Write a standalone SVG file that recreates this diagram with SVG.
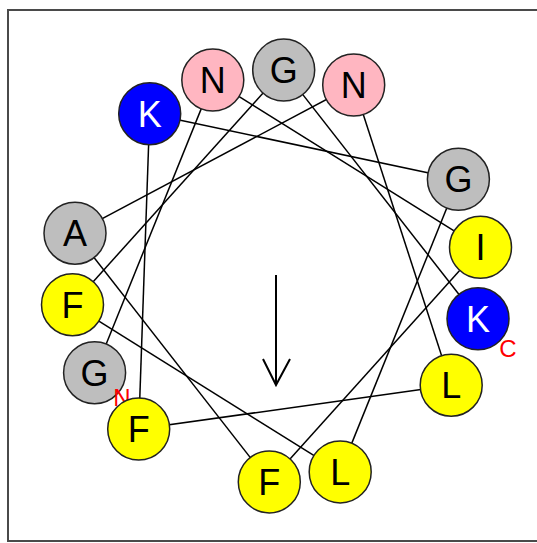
<svg xmlns="http://www.w3.org/2000/svg" width="537" height="543" viewBox="0 0 537 543">
<style>
.frame{fill:none;stroke:#4a4a4a;stroke-width:2}
.conn line{stroke:#000;stroke-width:1.5}
.res circle{stroke:#222;stroke-width:1.5}
.res text{font-family:"Liberation Sans",Arial,sans-serif;font-size:36px;text-anchor:middle;fill:#000}
.res.blue text{fill:#fff}
.blue circle{fill:#0000ff}
.pink circle{fill:#ffb6c1}
.gray circle{fill:#bebebe}
.yellow circle{fill:#ffff00}
.term{font-family:"Liberation Sans",Arial,sans-serif;font-size:24px;fill:#ff0000;text-anchor:middle}
.arrow{fill:none;stroke:#000;stroke-width:2}
</style>
<rect class="frame" x="8" y="10" width="540" height="531"/>
<g id="connectors" class="conn">
<line x1="94.6" y1="372.7" x2="212.8" y2="80.1"/>
<line x1="212.8" y1="80.1" x2="480.5" y2="247.3"/>
<line x1="480.5" y1="247.3" x2="269.3" y2="481.9"/>
<line x1="269.3" y1="481.9" x2="75.0" y2="233.2"/>
<line x1="75.0" y1="233.2" x2="353.7" y2="85.0"/>
<line x1="353.7" y1="85.0" x2="451.2" y2="385.2"/>
<line x1="451.2" y1="385.2" x2="138.7" y2="429.1"/>
<line x1="138.7" y1="429.1" x2="149.7" y2="113.7"/>
<line x1="149.7" y1="113.7" x2="458.4" y2="179.3"/>
<line x1="458.4" y1="179.3" x2="340.2" y2="471.9"/>
<line x1="340.2" y1="471.9" x2="72.5" y2="304.7"/>
<line x1="72.5" y1="304.7" x2="283.7" y2="70.1"/>
<line x1="283.7" y1="70.1" x2="478.0" y2="318.8"/>
</g>
<path id="moment-arrow" class="arrow" d="M276 275 V385 M263 359 L276 385 L290 359"/>
<g id="r1" class="res gray"><circle cx="94.6" cy="372.7" r="31"/><text x="94.6" y="385.6">G</text></g>
<text id="n-term" class="term" x="122" y="406">N</text>
<g id="r2" class="res pink"><circle cx="212.8" cy="80.1" r="31"/><text x="212.8" y="93.0">N</text></g>
<g id="r3" class="res yellow"><circle cx="480.5" cy="247.3" r="31"/><text x="480.5" y="260.2">I</text></g>
<g id="r4" class="res yellow"><circle cx="269.3" cy="481.9" r="31"/><text x="269.3" y="494.8">F</text></g>
<g id="r5" class="res gray"><circle cx="75.0" cy="233.2" r="31"/><text x="75.0" y="246.1">A</text></g>
<g id="r6" class="res pink"><circle cx="353.7" cy="85.0" r="31"/><text x="353.7" y="97.9">N</text></g>
<g id="r7" class="res yellow"><circle cx="451.2" cy="385.2" r="31"/><text x="451.2" y="398.1">L</text></g>
<g id="r8" class="res yellow"><circle cx="138.7" cy="429.1" r="31"/><text x="138.7" y="442.0">F</text></g>
<g id="r9" class="res blue"><circle cx="149.7" cy="113.7" r="31"/><text x="149.7" y="126.6">K</text></g>
<g id="r10" class="res gray"><circle cx="458.4" cy="179.3" r="31"/><text x="458.4" y="192.2">G</text></g>
<g id="r11" class="res yellow"><circle cx="340.2" cy="471.9" r="31"/><text x="340.2" y="484.8">L</text></g>
<g id="r12" class="res yellow"><circle cx="72.5" cy="304.7" r="31"/><text x="72.5" y="317.6">F</text></g>
<g id="r13" class="res gray"><circle cx="283.7" cy="70.1" r="31"/><text x="283.7" y="83.0">G</text></g>
<g id="r14" class="res blue"><circle cx="478.0" cy="318.8" r="31"/><text x="478.0" y="331.7">K</text></g>
<text id="c-term" class="term" x="508" y="357">C</text>
</svg>
